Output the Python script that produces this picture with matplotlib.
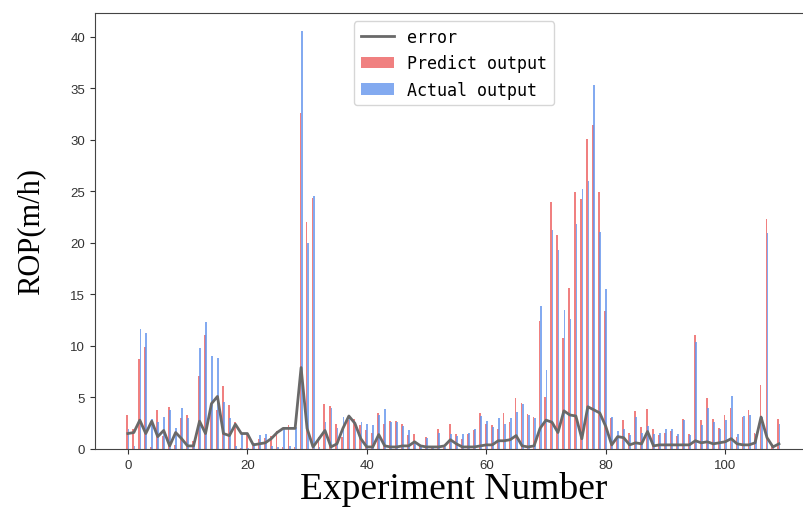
import numpy as np
import matplotlib
matplotlib.use("Agg")
import matplotlib.pyplot as plt

predict_output = [
    3.3, 1.9, 8.7, 9.9, 0.2, 3.8, 1.3, 4.1, 0.4, 3.0,
    3.3, 0.8, 7.1, 11.1, 4.0, 3.8, 6.1, 4.3, 2.6, 0.1,
    1.5, 0.3, 1.0, 1.1, 1.3, 1.7, 0.2, 2.3, 0.2, 32.6,
    22.0, 24.4, 1.2, 4.4, 4.2, 2.4, 1.2, 2.8, 2.9, 2.3,
    1.8, 1.6, 3.5, 2.4, 2.7, 2.7, 2.4, 1.4, 1.5, 0.4,
    1.2, 0.2, 1.9, 0.3, 2.4, 1.5, 1.0, 1.5, 1.8, 3.5,
    2.4, 2.3, 1.9, 3.5, 2.6, 4.9, 4.5, 3.4, 3.1, 12.4,
    5.0, 24.0, 20.8, 10.8, 15.6, 24.9, 24.3, 30.1, 31.4, 24.9,
    13.4, 3.0, 1.2, 2.8, 1.6, 3.7, 2.1, 3.9, 1.9, 1.4,
    1.6, 1.7, 1.3, 2.9, 1.5, 11.1, 2.8, 4.9, 2.9, 2.0,
    3.3, 4.0, 1.2, 3.1, 3.8, 1.6, 6.2, 22.3, 0.5, 2.9,
]
actual_output = [
    1.9, 0.3, 11.6, 11.3, 2.9, 2.6, 3.1, 3.8, 2.0, 4.0,
    3.0, 0.5, 9.8, 12.3, 9.0, 8.8, 4.6, 3.0, 0.3, 1.6,
    0.1, 0.6, 1.4, 1.5, 0.3, 0.2, 2.1, 0.3, 2.1, 40.6,
    20.0, 24.5, 0.2, 2.6, 4.0, 2.0, 3.1, 3.2, 2.5, 2.6,
    2.4, 2.3, 3.3, 3.9, 2.6, 2.6, 2.2, 1.8, 0.8, 0.3,
    1.1, 0.3, 1.6, 0.2, 1.5, 1.3, 1.5, 1.6, 1.9, 3.2,
    2.7, 2.1, 3.0, 2.4, 3.0, 3.6, 4.4, 3.3, 3.0, 13.9,
    7.7, 21.2, 19.3, 13.5, 12.6, 21.8, 25.2, 26.0, 35.3, 21.1,
    15.5, 3.1, 1.7, 1.9, 1.4, 3.1, 1.6, 2.2, 1.5, 1.6,
    1.9, 1.9, 1.5, 2.8, 1.4, 10.4, 2.3, 4.0, 2.6, 1.9,
    2.8, 5.1, 1.5, 3.2, 3.3, 1.5, 3.1, 21.0, 0.3, 2.4,
]
error = [
    1.5, 1.6, 2.8, 1.5, 2.7, 1.2, 1.8, 0.3, 1.6, 1.0,
    0.3, 0.3, 2.7, 1.5, 4.4, 5.1, 1.5, 1.3, 2.4, 1.5,
    1.5, 0.4, 0.5, 0.6, 1.0, 1.6, 2.0, 2.0, 2.0, 7.9,
    2.0, 0.2, 1.0, 1.8, 0.2, 0.5, 2.0, 3.2, 2.5, 1.0,
    0.2, 0.2, 1.4, 0.3, 0.2, 0.2, 0.3, 0.3, 0.7, 0.3,
    0.2, 0.2, 0.2, 0.3, 0.9, 0.5, 0.2, 0.2, 0.2, 0.3,
    0.4, 0.4, 0.8, 0.8, 0.9, 1.3, 0.3, 0.2, 0.3, 2.0,
    2.8, 2.6, 1.6, 3.7, 3.3, 3.2, 1.0, 4.1, 3.8, 3.5,
    2.2, 0.4, 1.2, 1.1, 0.4, 0.6, 0.5, 1.7, 0.3, 0.4,
    0.4, 0.4, 0.4, 0.4, 0.4, 0.8, 0.6, 0.7, 0.5, 0.6,
    0.7, 1.0, 0.5, 0.4, 0.4, 0.6, 3.1, 1.1, 0.2, 0.5,
]

x = np.arange(len(predict_output))
w = 0.3

fig = plt.figure(figsize=(8.04, 5.10), dpi=100)
ax = fig.add_axes([95 / 804, 1 - 450 / 510, 718 / 804, 436 / 510])

ax.plot(x, error, color="dimgray", lw=2, label="error", zorder=3)
ax.bar(x - 0.1, predict_output, width=w, color="lightcoral", label="Predict output")
ax.bar(x + 0.1, actual_output, width=w, color="cornflowerblue", alpha=0.8,
       label="Actual output")

ax.set_xlim(-5.5, 114.7)
ax.set_ylim(0, 42.3)
ax.set_xticks([0, 20, 40, 60, 80, 100])
ax.set_yticks(range(0, 41, 5))

for s in ax.spines.values():
    s.set_color("#444444")
ax.tick_params(colors="#333333", labelsize=9.5)
for lab in ax.get_xticklabels() + ax.get_yticklabels():
    lab.set_fontfamily("Liberation Sans")

ax.set_xlabel("Experiment Number", fontfamily="Liberation Serif", fontsize=27, labelpad=0)
ax.set_ylabel("ROP(m/h)", fontfamily="Liberation Serif", fontsize=22, labelpad=18)

ax.legend(loc="upper center", prop={"family": "DejaVu Sans Mono", "size": 12},
          bbox_to_anchor=(0.5, 1.0))

fig.savefig("out.png", dpi=100)
